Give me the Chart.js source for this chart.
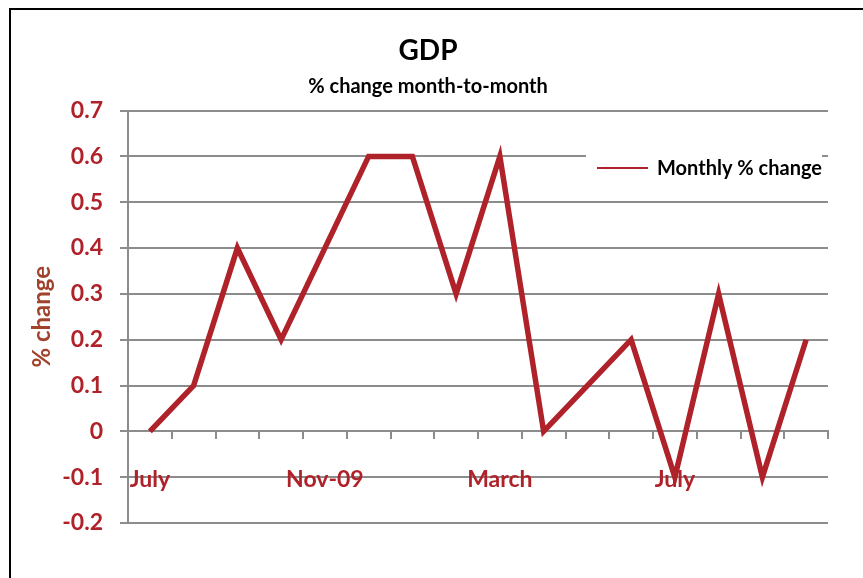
<!DOCTYPE html>
<html>
<head>
<meta charset="utf-8">
<script src="https://cdn.jsdelivr.net/npm/chart.js@4.4.1/dist/chart.umd.min.js"></script>
<style>
  html, body { margin: 0; padding: 0; background: #fff; }
  #wrap { position: relative; width: 863px; height: 578px; }
</style>
</head>
<body>
<div id="wrap"><canvas id="gdpChart" width="863" height="578"></canvas></div>
<script>
// months from Jul 2009 to Oct 2010
const months = ['Jul-09', 'Aug-09', 'Sep-09', 'Oct-09', 'Nov-09', 'Dec-09', 'Jan-10', 'Feb-10',
                'Mar-10', 'Apr-10', 'May-10', 'Jun-10', 'Jul-10', 'Aug-10', 'Sep-10', 'Oct-10'];
const monthLabels = ['July', '', '', '', 'Nov-09', '', '', '', 'March', '', '', '', 'July', '', '', ''];
const monthlyChange = [0, 0.1, 0.4, 0.2, 0.4, 0.6, 0.6, 0.3, 0.6, 0, 0.1, 0.2, -0.1, 0.3, -0.1, 0.2];
const seriesName = 'Monthly % change';

const red = '#b0222a';
const gridGray = '#8c8c8c';
const font = 'Lato, "Open Sans", sans-serif';

// outer frame + legend box
const framePlugin = {
    id: 'frame',
    beforeDraw(chart) {
        const ctx = chart.ctx;
        ctx.save();
        ctx.strokeStyle = '#000';
        ctx.lineWidth = 2;
        ctx.strokeRect(10, 9, 900, 620);
        ctx.restore();
    },
    beforeDatasetsDraw(chart) {
        const ctx = chart.ctx;
        const ds = chart.data.datasets[0];
        ctx.save();
        ctx.fillStyle = '#fff';
        ctx.fillRect(586, 148, 236, 50);
        ctx.strokeStyle = ds.borderColor;
        ctx.lineWidth = 2;
        ctx.beginPath();
        ctx.moveTo(597, 168);
        ctx.lineTo(648, 168);
        ctx.stroke();
        ctx.fillStyle = '#000';
        ctx.font = 'bold 20px ' + font;
        ctx.textBaseline = 'middle';
        ctx.fillText(ds.label, 657, 169);
        ctx.restore();
    }
};

new Chart(document.getElementById('gdpChart'), {
    type: 'line',
    data: {
        labels: months,
        datasets: [{
            label: seriesName,
            data: monthlyChange,
            borderColor: red,
            borderWidth: 5.5,
            pointRadius: 0,
            tension: 0,
            fill: false
        }]
    },
    plugins: [framePlugin],
    options: {
        responsive: false,
        animation: false,
        layout: { padding: { left: 28, right: 35, top: 0, bottom: 55 } },
        plugins: {
            legend: { display: false },
            tooltip: { enabled: false },
            title: {
                display: true,
                text: 'GDP',
                color: '#000',
                font: { family: font, size: 28, weight: 'bold' },
                padding: { top: 34, bottom: 7 }
            },
            subtitle: {
                display: true,
                text: '% change month-to-month',
                color: '#000',
                font: { family: font, size: 20, weight: 'bold' },
                padding: { top: 0, bottom: 12 }
            }
        },
        scales: {
            x: {
                position: { y: 0 },
                offset: true,
                grid: {
                    offset: true,
                    drawOnChartArea: false,
                    drawTicks: true,
                    tickLength: 7,
                    color: gridGray,
                    lineWidth: 2
                },
                border: { color: gridGray, width: 2 },
                ticks: {
                    autoSkip: false,
                    maxRotation: 0,
                    padding: 27,
                    color: red,
                    font: { family: font, size: 23, weight: 'bold' },
                    callback: (v, i) => monthLabels[i]
                }
            },
            y: {
                min: -0.2,
                max: 0.7,
                afterFit(scale) { scale.width = 100; },
                grid: {
                    color: gridGray,
                    lineWidth: 2,
                    tickLength: 8
                },
                border: { color: gridGray, width: 2 },
                ticks: {
                    stepSize: 0.1,
                    padding: 17,
                    color: red,
                    font: { family: font, size: 23, weight: 'bold' },
                    callback: v => Math.round(v * 10) / 10
                },
                title: {
                    display: true,
                    text: '% change',
                    color: '#a0422c',
                    font: { family: font, size: 24, weight: 'bold' },
                    padding: { top: 0, bottom: 0 }
                }
            }
        }
    }
});
</script>
</body>
</html>
